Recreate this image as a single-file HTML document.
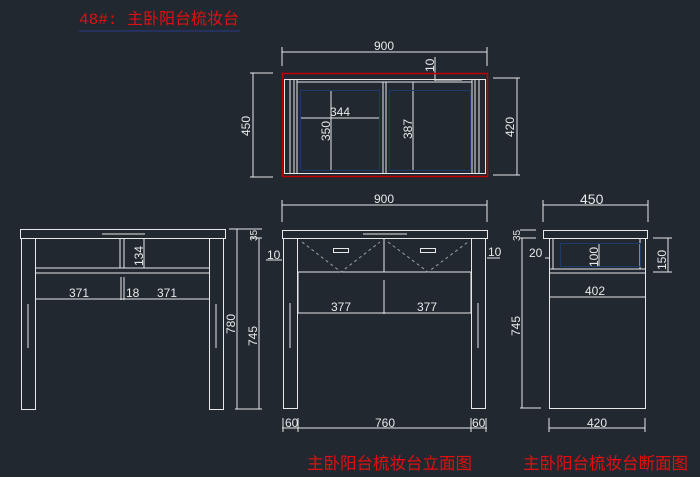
<!DOCTYPE html>
<html><head><meta charset="utf-8"><style>
html,body{margin:0;padding:0;background:#212830;}
svg{display:block}
text{font-family:"Liberation Sans","Noto Sans CJK SC",sans-serif;fill:#e8e8e8;font-size:12px}
.r{fill:#e01010;font-family:"Liberation Mono","Noto Sans CJK SC",monospace;font-size:15px}
</style></head><body>
<svg width="700" height="477" viewBox="0 0 700 477" xmlns="http://www.w3.org/2000/svg">
<rect width="700" height="477" fill="#212830"/>
<text x="79" y="24" class="r" style="font-size:16px">48#: 主卧阳台梳妆台</text>
<line x1="79" y1="31" x2="240" y2="31" stroke="#2a3a8a" stroke-width="1"/>
<g stroke="#e8e8e8" stroke-width="1" fill="none">
<line x1="282" y1="52" x2="487" y2="52"/><line x1="282" y1="47" x2="282" y2="66"/><line x1="487" y1="47" x2="487" y2="66"/>
<line x1="253" y1="73" x2="253" y2="177"/><line x1="250" y1="73" x2="273" y2="73"/><line x1="250" y1="177" x2="273" y2="177"/>
<line x1="517" y1="78" x2="517" y2="175"/><line x1="493" y1="78" x2="520" y2="78"/><line x1="493" y1="175" x2="520" y2="175"/>
<rect x="284.5" y="79.5" width="201" height="94"/>
<line x1="290" y1="80" x2="290" y2="173"/><line x1="294" y1="80" x2="294" y2="173"/><line x1="297" y1="80" x2="297" y2="173"/>
<line x1="479" y1="80" x2="479" y2="173"/><line x1="475" y1="80" x2="475" y2="173"/><line x1="472" y1="80" x2="472" y2="173"/>
<line x1="297" y1="82" x2="472" y2="82"/>
<line x1="383" y1="82" x2="383" y2="173"/><line x1="386" y1="82" x2="386" y2="173"/>
<line x1="435" y1="57" x2="435" y2="81"/><line x1="435" y1="80" x2="462" y2="80"/>
<line x1="300" y1="118" x2="379" y2="118"/>
<line x1="331" y1="91" x2="331" y2="171"/><line x1="413" y1="82" x2="413" y2="171"/>
</g>
<rect x="282.5" y="73.5" width="205" height="103" fill="none" stroke="#c00000" stroke-width="1.5"/>
<g stroke="#1c3a6a" fill="none"><rect x="300.5" y="90.5" width="79" height="80"/><rect x="389.5" y="90.5" width="81" height="80"/></g>
<text x="374" y="50">900</text>
<text transform="translate(434,72) rotate(-90)">10</text>
<text x="330" y="116">344</text>
<text transform="translate(330,141) rotate(-90)">350</text>
<text transform="translate(412,139) rotate(-90)">387</text>
<text transform="translate(250,136) rotate(-90)">450</text>
<text transform="translate(514,137) rotate(-90)">420</text>

<g stroke="#e8e8e8" stroke-width="1" fill="none">
<rect x="20.5" y="229.5" width="205" height="9"/>
<rect x="21.5" y="238.5" width="14" height="171"/><rect x="209.5" y="238.5" width="14" height="171"/>
<line x1="35" y1="268" x2="209" y2="268"/><line x1="35" y1="273" x2="209" y2="273"/>
<line x1="120" y1="238" x2="120" y2="268"/><line x1="124" y1="238" x2="124" y2="268"/>
<line x1="121" y1="277" x2="121" y2="300"/><line x1="124" y1="277" x2="124" y2="300"/>
<line x1="35" y1="299" x2="209" y2="299"/>
<line x1="144" y1="238" x2="144" y2="268"/>
<line x1="102" y1="234" x2="145" y2="234"/>
<line x1="28" y1="304" x2="28" y2="348"/><line x1="216" y1="304" x2="216" y2="348"/>
<line x1="237" y1="229" x2="237" y2="409"/><line x1="235" y1="409" x2="262" y2="409"/><line x1="235" y1="229" x2="262" y2="229"/>
<line x1="259" y1="238" x2="259" y2="409"/><line x1="250" y1="238" x2="262" y2="238"/>
<line x1="229" y1="229" x2="244" y2="229"/>
<line x1="282" y1="205" x2="487" y2="205"/><line x1="282" y1="200" x2="282" y2="222"/><line x1="487" y1="200" x2="487" y2="222"/>
<rect x="282.5" y="230.5" width="205" height="8"/>
<rect x="283.5" y="238.5" width="14" height="170"/><rect x="471.5" y="238.5" width="14" height="170"/>
<line x1="298" y1="272" x2="471" y2="272"/>
<line x1="384" y1="238" x2="384" y2="272"/><line x1="384" y1="280" x2="384" y2="314"/>
<line x1="298" y1="313" x2="471" y2="313"/>
<line x1="298" y1="272" x2="298" y2="313"/><line x1="471" y1="272" x2="471" y2="313"/>
<rect x="333.5" y="248.5" width="15" height="4"/><rect x="420.5" y="248.5" width="15" height="4"/>
<line x1="363" y1="234" x2="407" y2="234"/>
<line x1="290" y1="303" x2="290" y2="348"/><line x1="478" y1="303" x2="478" y2="348"/>
<line x1="282" y1="428" x2="487" y2="428"/><line x1="283" y1="418" x2="283" y2="432"/><line x1="298" y1="418" x2="298" y2="432"/><line x1="471" y1="418" x2="471" y2="432"/><line x1="486" y1="418" x2="486" y2="432"/>
<line x1="266" y1="260" x2="282" y2="260"/><line x1="487" y1="258" x2="500" y2="258"/>
<line x1="543" y1="205" x2="648" y2="205"/><line x1="543" y1="200" x2="543" y2="222"/><line x1="648" y1="200" x2="648" y2="222"/>
<rect x="543.5" y="230.5" width="104" height="8"/>
<rect x="549.5" y="238.5" width="96" height="170"/>
<line x1="549" y1="269" x2="645" y2="269"/><line x1="549" y1="273" x2="645" y2="273"/>
<line x1="553" y1="238" x2="553" y2="269"/><line x1="640" y1="238" x2="640" y2="269"/>
<line x1="549" y1="297" x2="645" y2="297"/>
<line x1="599" y1="243" x2="599" y2="267"/>
<line x1="522" y1="238" x2="522" y2="408"/><line x1="520" y1="408" x2="541" y2="408"/>
<line x1="520" y1="230" x2="536" y2="230"/><line x1="520" y1="238" x2="536" y2="238"/>
<line x1="668" y1="238" x2="668" y2="272"/><line x1="653" y1="238" x2="672" y2="238"/><line x1="653" y1="272" x2="672" y2="272"/>
<line x1="549" y1="428" x2="645" y2="428"/><line x1="549" y1="418" x2="549" y2="432"/><line x1="645" y1="418" x2="645" y2="432"/>
<line x1="545" y1="258" x2="549" y2="258"/>
</g>
<g stroke="#9aa0a6" stroke-dasharray="3,3" fill="none">
<polyline points="302,242 341,272 380,242"/><polyline points="388,242 428,272 468,242"/>
</g>
<rect x="560.5" y="243.5" width="80" height="23" fill="none" stroke="#1c3a6a"/>
<text x="69" y="297">371</text><text x="126" y="297">18</text><text x="157" y="297">371</text>
<text transform="translate(143,266) rotate(-90)">134</text>
<text transform="translate(235,334) rotate(-90)">780</text>
<text transform="translate(257,346) rotate(-90)">745</text>
<text transform="translate(257,241) rotate(-90)" style="font-size:10px">35</text>
<text x="267" y="259">10</text>
<text x="374" y="203">900</text>
<text x="488" y="256">10</text>
<text x="331" y="311">377</text><text x="417" y="311">377</text>
<text x="285" y="427">60</text><text x="375" y="427">760</text><text x="472" y="427">60</text>
<text x="580" y="204" style="font-size:14px">450</text>
<text x="529" y="257">20</text>
<text transform="translate(598,267) rotate(-90)">100</text>
<text transform="translate(666,270) rotate(-90)">150</text>
<text x="585" y="295">402</text>
<text transform="translate(520,336) rotate(-90)">745</text>
<text transform="translate(520,241) rotate(-90)" style="font-size:10px">35</text>
<text x="587" y="427">420</text>
<text x="307" y="469" class="r" style="font-size:16.5px">主卧阳台梳妆台立面图</text>
<text x="523" y="469" class="r" style="font-size:16.5px">主卧阳台梳妆台断面图</text>
</svg>
</body></html>
